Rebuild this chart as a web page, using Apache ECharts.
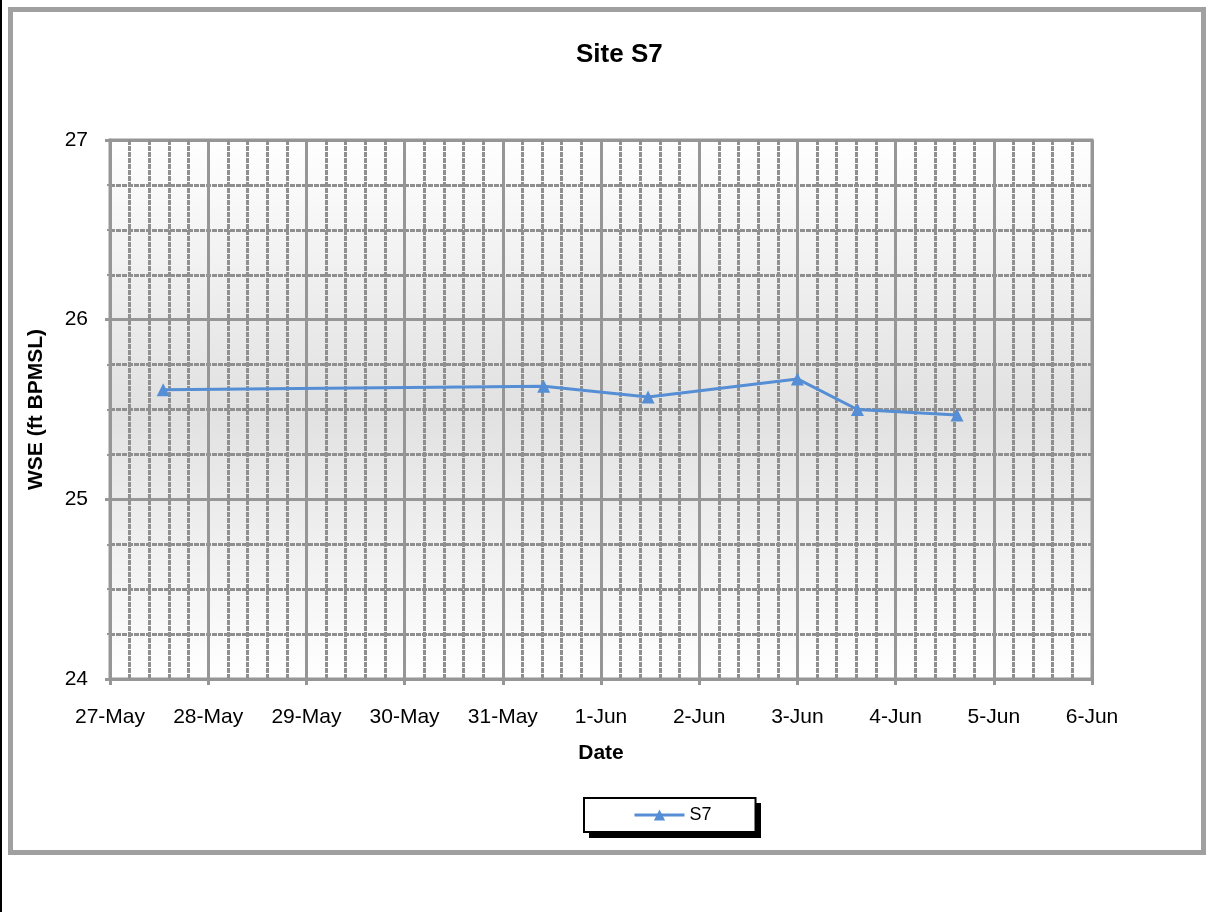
<!DOCTYPE html>
<html>
<head>
<meta charset="utf-8">
<title>Site S7</title>
<script src="https://cdn.jsdelivr.net/npm/echarts@6/dist/echarts.min.js"></script>
<style>
  html, body { margin: 0; padding: 0; background: #fff; }
  #wrap { position: relative; width: 1209px; height: 912px; overflow: hidden; }
  #edge { position: absolute; left: 0; top: 0; width: 2px; height: 912px; background: #000; }
  #frame {
    position: absolute; left: 8px; top: 7px; width: 1198px; height: 848px;
    box-sizing: border-box; border: 5px solid #a0a0a0; background: #fff;
  }
  #chart { position: absolute; left: 0; top: 0; width: 1209px; height: 912px; }
</style>
</head>
<body>
<div id="wrap">
  <div id="edge"></div>
  <div id="frame"></div>
  <div id="chart"></div>
</div>
<script>
//--------------------- Data ---------------------------//
const startDate = '2011-05-27T00:00:00Z';
const dayLabels = ['27-May', '28-May', '29-May', '30-May', '31-May', '1-Jun',
  '2-Jun', '3-Jun', '4-Jun', '5-Jun', '6-Jun'];
const times = ['2011-05-27T13:00:00Z', '2011-05-31T10:00:00Z', '2011-06-01T11:30:00Z',
  '2011-06-03T00:00:00Z', '2011-06-03T14:40:00Z', '2011-06-04T15:00:00Z'];
const wse = [25.61, 25.63, 25.57, 25.67, 25.50, 25.47];

//--------------------- Chart ---------------------------//
const font = "'Liberation Sans', Arial, sans-serif";
const gridColor = '#969696';
const lineColor = '#558ed5';

// days since startDate, so the x axis can be a plain value axis
const dayOf = (t) => (Date.parse(t) - Date.parse(startDate)) / 86400000;
const points = times.map((t, i) => [dayOf(t), wse[i]]);

const myChart = echarts.init(document.getElementById('chart'), null, { renderer: 'canvas' });

const minorLine = { color: '#8f8f8f', width: 3, type: [5, 1] };

const option = {
  backgroundColor: 'transparent',
  animation: false,
  title: {
    text: 'Site S7',
    left: 576,
    top: 42,
    padding: 0,
    textStyle: { fontFamily: font, fontSize: 26, fontWeight: 'bold', color: '#000' }
  },
  // legend drop shadow (Excel style offset box)
  graphic: [
    {
      type: 'rect',
      left: 589, top: 803,
      z: 0,
      shape: { width: 172, height: 35 },
      style: { fill: '#000' }
    }
  ],
  grid: {
    left: 110, top: 140, right: 117, bottom: 233,
    show: true,
    borderColor: gridColor,
    borderWidth: 3,
    backgroundColor: new echarts.graphic.LinearGradient(0, 0, 0, 1, [
      { offset: 0, color: '#ffffff' },
      { offset: 0.5, color: '#e1e1e1' },
      { offset: 1, color: '#ffffff' }
    ])
  },
  xAxis: {
    type: 'value',
    min: 0, max: 10, interval: 1,
    name: 'Date',
    nameLocation: 'middle',
    nameGap: 64,
    nameTextStyle: { fontFamily: font, fontSize: 21, fontWeight: 'bold', color: '#000' },
    axisLine: { show: true, lineStyle: { color: gridColor, width: 3 } },
    axisTick: { show: true, length: 6, lineStyle: { color: gridColor, width: 3 } },
    minorTick: { show: false, splitNumber: 5 },
    axisLabel: {
      margin: 28,
      fontFamily: font, fontSize: 21, color: '#000',
      formatter: (v) => dayLabels[Math.round(v)] || ''
    },
    splitLine: { show: true, lineStyle: { color: gridColor, width: 3 } },
    minorSplitLine: { show: true, lineStyle: minorLine }
  },
  yAxis: {
    type: 'value',
    min: 24, max: 27, interval: 1,
    name: 'WSE (ft BPMSL)',
    nameLocation: 'middle',
    nameGap: 63,
    nameTextStyle: { fontFamily: font, fontSize: 21, fontWeight: 'bold', color: '#000' },
    axisLine: { show: true, lineStyle: { color: gridColor, width: 3 } },
    axisTick: { show: true, length: 5, lineStyle: { color: gridColor, width: 3 } },
    minorTick: { show: true, splitNumber: 4, length: 3, lineStyle: { color: gridColor, width: 2 } },
    axisLabel: { margin: 22, fontFamily: font, fontSize: 21, color: '#000', padding: [4, 0, 0, 0] },
    splitLine: { show: true, lineStyle: { color: gridColor, width: 3 } },
    minorSplitLine: { show: true, lineStyle: minorLine }
  },
  legend: {
    left: 584, top: 798,
    z: 5,
    padding: [8, 44, 8, 49],
    itemWidth: 50, itemHeight: 14, itemGap: 5,
    backgroundColor: '#fff',
    borderColor: '#000',
    borderWidth: 2,
    borderRadius: 0,
    lineStyle: { width: 3 },
    textStyle: { fontFamily: font, fontSize: 18, color: '#000' },
    data: ['S7']
  },
  series: [
    {
      name: 'S7',
      type: 'line',
      data: points,
      symbol: 'triangle',
      symbolSize: 13,
      itemStyle: { color: lineColor },
      lineStyle: { color: lineColor, width: 3 }
    }
  ]
};

myChart.setOption(option);
</script>
</body>
</html>
